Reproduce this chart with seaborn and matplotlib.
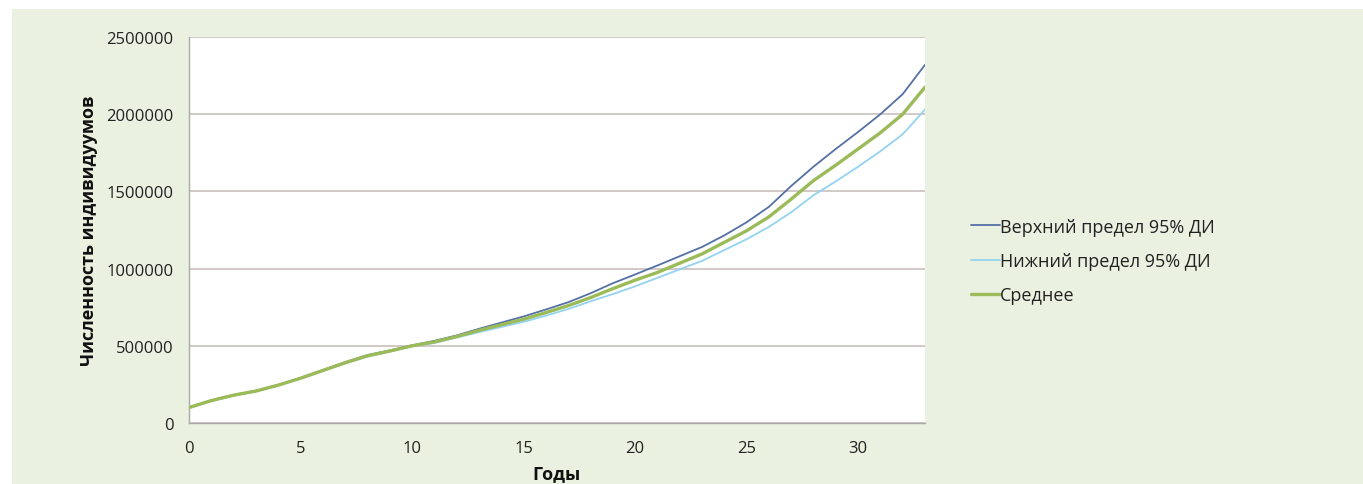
import numpy as np
import pandas as pd
import matplotlib
matplotlib.use('Agg')
import matplotlib.pyplot as plt
import seaborn as sns
from matplotlib.patches import Rectangle

# Years and population values
years = list(range(0, 34))
upper = [102000, 147000, 182000, 209000, 247000, 292000, 343000, 394000, 440000, 470000,
         503000, 532000, 567000, 610000, 650000, 690000, 735000, 782000, 840000, 905000,
         962000, 1020000, 1080000, 1140000, 1215000, 1300000, 1400000, 1535000, 1660000, 1775000,
         1885000, 2000000, 2130000, 2320000]
lower = [98000, 143000, 178000, 205000, 243000, 288000, 337000, 386000, 430000, 462000,
         496000, 518000, 553000, 588000, 622000, 655000, 695000, 738000, 788000, 835000,
         885000, 940000, 995000, 1050000, 1120000, 1190000, 1270000, 1365000, 1475000, 1565000,
         1660000, 1760000, 1870000, 2030000]
mean = [100000, 145000, 180000, 207000, 245000, 290000, 340000, 390000, 435000, 466000,
        500000, 525000, 560000, 600000, 636000, 672000, 715000, 760000, 812000, 870000,
        925000, 975000, 1035000, 1095000, 1170000, 1245000, 1335000, 1450000, 1570000, 1670000,
        1775000, 1880000, 2000000, 2175000]

labels = ['Верхний предел 95% ДИ', 'Нижний предел 95% ДИ', 'Среднее']
colors = {labels[0]: '#5470A4', labels[1]: '#93D3F0', labels[2]: '#9BBB59'}
widths = {labels[0]: 1.3, labels[1]: 1.3, labels[2]: 2.4}

df = pd.DataFrame({
    'year': years * 3,
    'value': upper + lower + mean,
    'series': [labels[0]] * len(years) + [labels[1]] * len(years) + [labels[2]] * len(years),
})

sns.set_style('white')
plt.rcParams['font.family'] = ['Open Sans', 'DejaVu Sans']

fig = plt.figure(figsize=(13.63, 4.85), dpi=100)
# light green panel behind the chart
fig.patches.append(Rectangle((12 / 1363, 0), 1 - 12 / 1363, 1 - 10 / 485,
                             transform=fig.transFigure, facecolor='#EAF1E0',
                             edgecolor='none', zorder=-10))
ax = fig.add_axes([189 / 1363, 1 - 424 / 485, (925 - 189) / 1363, (424 - 38) / 485])
ax.set_facecolor('white')

for name in labels:
    sub = df[df['series'] == name]
    sns.lineplot(data=sub, x='year', y='value', ax=ax, color=colors[name],
                 linewidth=widths[name], label=name, zorder=3 if name == labels[2] else 2)

ax.set_xlim(0, 33)
ax.set_ylim(0, 2500000)
ax.set_xticks(range(0, 31, 5))
ax.set_yticks(range(0, 2500001, 500000))
ax.set_yticklabels([str(v) for v in range(0, 2500001, 500000)])
ax.yaxis.grid(True, color='#C9BFBF', linewidth=1.2)
ax.xaxis.grid(False)
for side in ['top', 'right']:
    ax.spines[side].set_visible(False)
for side in ['left', 'bottom']:
    ax.spines[side].set_color('#A9A9A9')
    ax.spines[side].set_linewidth(1.0)
ax.tick_params(axis='both', which='both', direction='out', length=5, width=1,
               color='#A9A9A9', labelsize=12, labelcolor='#222222')
ax.tick_params(axis='y', pad=6)
ax.tick_params(axis='x', pad=7)

ax.set_xlabel('Годы', fontsize=13, fontweight='bold', color='#111111', labelpad=6)
ax.set_ylabel('Численность индивидуумов', fontsize=13, fontweight='bold',
              color='#111111', labelpad=6)

leg = ax.legend(loc='center left', bbox_to_anchor=(1.04, 0.42), frameon=False,
                fontsize=13, handlelength=1.6, handletextpad=0.0, labelspacing=0.9)
for t in leg.get_texts():
    t.set_color('#222222')

fig.savefig('out.png', dpi=100)
